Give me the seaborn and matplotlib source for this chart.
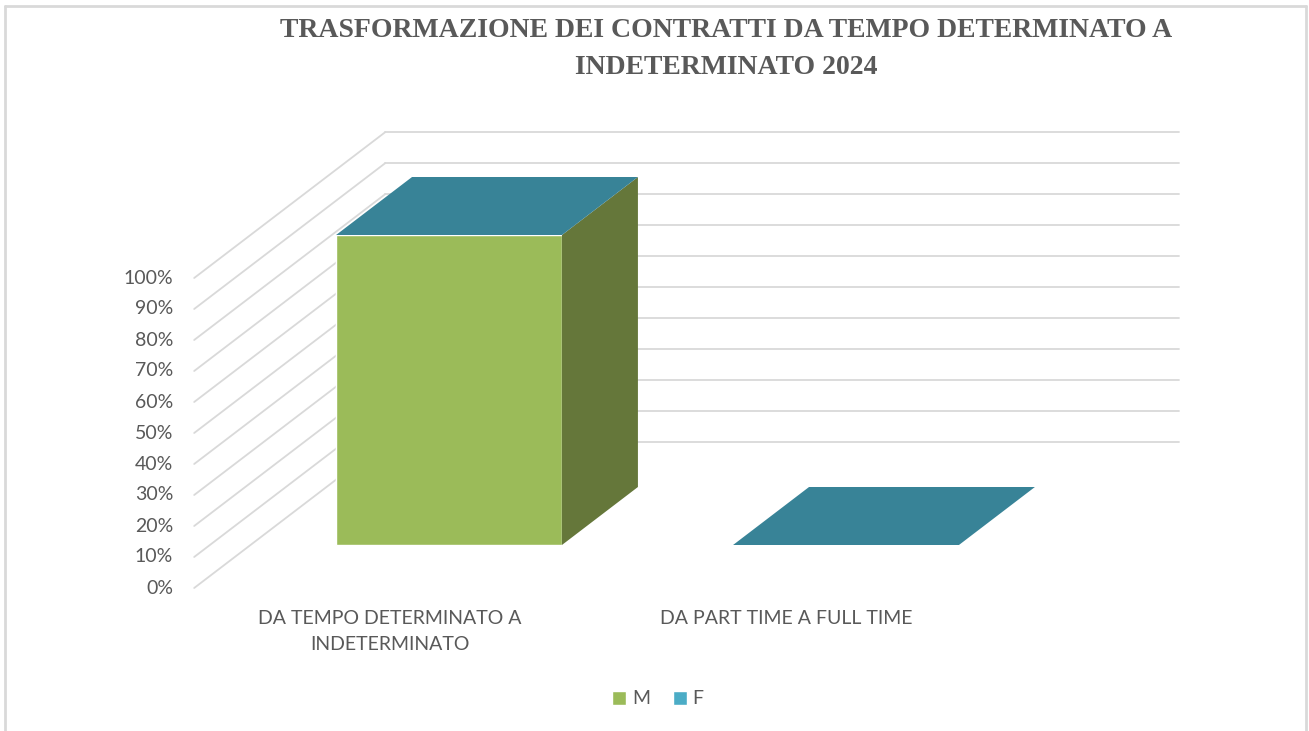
import pandas as pd
import numpy as np
import matplotlib.pyplot as plt
import seaborn as sns
from matplotlib.patches import Polygon, Patch
from matplotlib.lines import Line2D

# dati
categorie = ["DA TEMPO DETERMINATO A\nINDETERMINATO", "DA PART TIME A FULL TIME"]
valori_m = [100, 0]
valori_f = [0, 0]
tick_pct = [0, 10, 20, 30, 40, 50, 60, 70, 80, 90, 100]
titolo = "TRASFORMAZIONE DEI CONTRATTI DA TEMPO DETERMINATO A\nINDETERMINATO 2024"

df = pd.DataFrame({"cat": categorie, "M": valori_m, "F": valori_f})
df["tot"] = df["M"] + df["F"]

# colori
verde = "#9BBB59"
verde_scuro = "#65773A"
teal_top = "#388397"
teal_front = "#4BACC6"
teal_scuro = "#2E6D7E"
griglia = "#D9D9D9"
testo = "#595959"

# scala pseudo-3D (pixel)
PX_X = 397.0
PX_Y = 3.1
K = 1.31

def shift(depth):
    return depth * K / PX_X, depth / PX_Y

sns.set_theme(style="white")
plt.rcParams['font.family'] = ['Lato', 'DejaVu Sans']

fig = plt.figure(figsize=(13.09, 7.31), dpi=100)
ax = fig.add_axes([0, 0, 1, 1])

# barre (faccia frontale)
sns.barplot(data=df, x="cat", y="tot", color=teal_front, width=0.569, saturation=1, ax=ax, zorder=3)
sns.barplot(data=df, x="cat", y="M", color=verde, width=0.569, saturation=1, ax=ax, zorder=3)

ax.set_xlim(-449 / PX_X, (1309 - 449) / PX_X)
ax.set_ylim(-(731 - 545) / PX_Y, 545 / PX_Y)
ax.set_axis_off()

# pareti e griglia
fx, fy = shift(-43)
bx, by = shift(103)
for v in tick_pct:
    ax.plot([-0.5 + fx, -0.5 + bx], [v + fy, v + by], color=griglia, lw=1.3, zorder=1)
    ax.plot([-0.5 + bx, 1.5 + bx], [v + by, v + by], color=griglia, lw=1.3, zorder=1)
    ax.text(-0.5 + fx - 21 / PX_X, v + fy, f"{v}%", ha="right", va="center",
            fontsize=14, color=testo)

# facce laterali e superiori
dx, dy = shift(58)
n = len(df)
bar_m = ax.patches[n:2 * n]
for i, p in enumerate(bar_m):
    x0 = p.get_x()
    w = p.get_width()
    m = df["M"][i]
    t = df["tot"][i]
    x1 = x0 + w
    if m > 0:
        ax.add_patch(Polygon([(x1, 0), (x1 + dx, dy), (x1 + dx, m + dy), (x1, m)],
                             closed=True, fc=verde_scuro, ec="none", zorder=3))
    if t > m:
        ax.add_patch(Polygon([(x1, m), (x1 + dx, m + dy), (x1 + dx, t + dy), (x1, t)],
                             closed=True, fc=teal_scuro, ec="none", zorder=3))
    ax.add_patch(Polygon([(x0, t), (x1, t), (x1 + dx, t + dy), (x0 + dx, t + dy)],
                         closed=True, fc=teal_top, ec="none", zorder=4))

# etichette categorie
for i, c in enumerate(categorie):
    ax.text(i + fx - 3 / PX_X, -21, c, ha="center", va="top", fontsize=14, color=testo,
            linespacing=1.6)

# titolo
fig.text(726 / 1309, 1 - 49 / 731, titolo, ha="center", va="center", fontsize=20,
         weight="bold", family="Liberation Serif", color=testo, linespacing=1.65)

# legenda
handles = [Patch(facecolor=verde, label="M"), Patch(facecolor=teal_front, label="F")]
fig.legend(handles=handles, loc="center", bbox_to_anchor=(658 / 1309, 1 - 699 / 731),
           ncol=2, frameon=False, fontsize=14, handlelength=0.7, handleheight=0.7,
           handletextpad=0.3, columnspacing=1.2, labelcolor=testo)

# bordo
for xs, ys in [([5, 5], [0, 725]), ([1306, 1306], [0, 725]), ([5, 1306], [725, 725])]:
    fig.add_artist(Line2D([x / 1309 for x in xs], [y / 731 for y in ys], color=griglia,
                          lw=2, transform=fig.transFigure))

fig.savefig("out.png", dpi=100, facecolor="white")
